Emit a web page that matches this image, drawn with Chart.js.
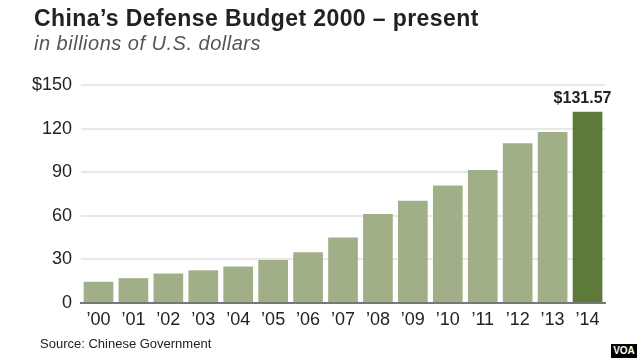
<!DOCTYPE html>
<html>
<head>
<meta charset="utf-8">
<script src="https://cdn.jsdelivr.net/npm/chart.js@4.4.1/dist/chart.umd.min.js"></script>
<style>
  body { margin: 0; background: #fff; }
  #wrap { position: relative; width: 640px; height: 360px; overflow: hidden; font-family: "Liberation Sans", Arial, sans-serif; }
  #chart { position: absolute; left: 0; top: 0; }
  .txt { position: absolute; white-space: nowrap; line-height: 1; }
  #titulo { left: 34px; top: 7px; font-size: 23px; font-weight: bold; color: #222; letter-spacing: 0.4px; }
  #subtitulo { left: 34px; top: 33px; font-size: 20px; font-style: italic; color: #555; letter-spacing: 0.5px; }
  #fuente { left: 40px; top: 337px; font-size: 13px; color: #222; }
  #voa { left: 611px; top: 344px; width: 26px; height: 14px; background: #000; color: #fff;
         font-size: 10px; font-weight: bold; text-align: center; line-height: 14px; }
</style>
</head>
<body>
<div id="wrap">
  <canvas id="chart" width="640" height="360"></canvas>
  <div class="txt" id="titulo">China’s Defense Budget 2000 – present</div>
  <div class="txt" id="subtitulo">in billions of U.S. dollars</div>
  <div class="txt" id="fuente">Source: Chinese Government</div>
  <div class="txt" id="voa">VOA</div>
</div>
<script>
// Datos del gráfico
const years = ['’00', '’01', '’02', '’03', '’04', '’05', '’06', '’07', '’08', '’09', '’10', '’11', '’12', '’13', '’14'];
const budget = [14.6, 17.1, 20.3, 22.5, 25.2, 29.6, 34.9, 45.0, 61.2, 70.3, 80.8, 91.5, 110.0, 117.6, 131.57];
const yTicks = [0, 30, 60, 90, 120, 150];
const lastLabel = '$131.57';

// Colores de las barras (la última en verde oscuro)
const barColors = budget.map((v, i) => i === budget.length - 1 ? '#5d7a38' : '#a1af88');

// Plugin para la etiqueta del último valor
const etiquetaFinal = {
    id: 'etiquetaFinal',
    afterDatasetsDraw(chart) {
        const meta = chart.getDatasetMeta(0);
        const bar = meta.data[meta.data.length - 1];
        const ctx = chart.ctx;
        ctx.save();
        ctx.font = 'bold 16px "Liberation Sans", Arial, sans-serif';
        ctx.fillStyle = '#222';
        ctx.textAlign = 'center';
        ctx.textBaseline = 'alphabetic';
        ctx.fillText(lastLabel, bar.x - 5, bar.y - 9);
        ctx.restore();
    }
};

const ctx = document.getElementById('chart').getContext('2d');
new Chart(ctx, {
    type: 'bar',
    data: {
        labels: years,
        datasets: [{
            data: budget,
            backgroundColor: barColors,
            borderWidth: 0,
            categoryPercentage: 1,
            barPercentage: 0.85
        }]
    },
    options: {
        responsive: false,
        animation: false,
        layout: { padding: { left: 0, right: 35, top: 85, bottom: 27 } },
        plugins: { legend: { display: false }, tooltip: { enabled: false } },
        scales: {
            x: {
                z: 1,
                grid: { display: false, drawTicks: false },
                border: { display: true, color: '#777', width: 2 },
                ticks: {
                    color: '#222',
                    padding: 6,
                    maxRotation: 0,
                    font: { family: '"Liberation Sans", Arial, sans-serif', size: 18 }
                },
                afterFit: s => { s.height = 30; }
            },
            y: {
                z: 1,
                min: 0,
                max: 150,
                afterBuildTicks: s => { s.ticks = yTicks.map(v => ({ value: v })); },
                grid: { color: ctx => ctx.tick && ctx.tick.value === 0 ? 'rgba(0,0,0,0)' : 'rgba(0,0,0,0.09)', lineWidth: 2, drawTicks: false },
                border: { display: false },
                ticks: {
                    color: '#222',
                    padding: 9,
                    font: { family: '"Liberation Sans", Arial, sans-serif', size: 18 },
                    callback: v => v === 150 ? '$' + v : v
                },
                afterFit: s => { s.width = 81; }
            }
        }
    },
    plugins: [etiquetaFinal]
});
</script>
</body>
</html>
